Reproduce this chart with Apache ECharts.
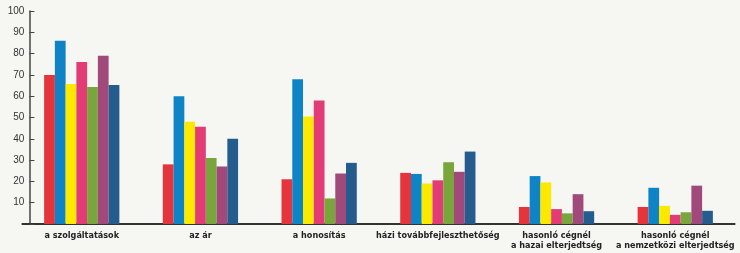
<!DOCTYPE html>
<html>
<head>
<meta charset="utf-8">
<script src="https://cdn.jsdelivr.net/npm/echarts@6/dist/echarts.min.js"></script>
<style>
html,body{margin:0;padding:0;background:#f6f6f2;}
#c{width:740px;height:253px;}
</style>
</head>
<body>
<div id="c"></div>
<script>
const categories = ["a szolgáltatások", "az ár", "a honosítás", "házi továbbfejleszthetőség", "hasonló cégnél\na hazai elterjedtség", "hasonló cégnél\na nemzetközi elterjedtség"];
const seriesRed    = [70, 28, 21, 24, 8, 8];
const seriesBlue   = [86, 60, 68, 23.5, 22.5, 17];
const seriesYellow = [65.7, 48, 50.5, 19, 19.5, 8.5];
const seriesPink   = [76, 45.6, 58, 20.5, 7, 4.3];
const seriesGreen  = [64.3, 31, 12, 29, 5, 5.5];
const seriesPurple = [79, 27, 23.7, 24.5, 14, 18];
const seriesNavy   = [65.3, 40, 28.7, 34, 6, 6.2];
const yTicks = [10, 20, 30, 40, 50, 60, 70, 80, 90, 100];

const allSeries = [seriesRed, seriesBlue, seriesYellow, seriesPink, seriesGreen, seriesPurple, seriesNavy];
const colors = ["#e5343c", "#0e84c6", "#fde800", "#e33b75", "#78a63c", "#a0497a", "#255c8e"];

const chart = echarts.init(document.getElementById('c'));
chart.setOption({
  backgroundColor: '#f6f6f2',
  animation: false,
  grid: {left: 22.4, right: 5.4, top: 11, bottom: 29},
  xAxis: {
    type: 'category',
    data: categories,
    axisLine: {lineStyle: {color: '#333', width: 2}},
    axisTick: {show: false},
    axisLabel: {
      interval: 0, margin: 7, lineHeight: 10,
      fontFamily: '"DejaVu Sans Condensed", sans-serif',
      fontWeight: 'bold', fontSize: 9, color: '#222'
    }
  },
  yAxis: {
    type: 'value', min: 0, max: 100, interval: 10,
    offset: -7,
    axisLine: {show: true, lineStyle: {color: '#444', width: 1.5}},
    axisTick: {show: true, inside: true, length: 5, lineStyle: {color: '#444'}},
    splitLine: {show: false},
    axisLabel: {
      margin: 5, fontSize: 10, color: '#333',
      fontFamily: '"Liberation Sans", Arial, sans-serif',
      formatter: v => yTicks.includes(v) ? String(v) : ''
    }
  },
  series: allSeries.map((d, i) => ({
    type: 'bar', data: d, barWidth: 10.75, barGap: '0%',
    itemStyle: {color: colors[i]}
  }))
});
</script>
</body>
</html>
